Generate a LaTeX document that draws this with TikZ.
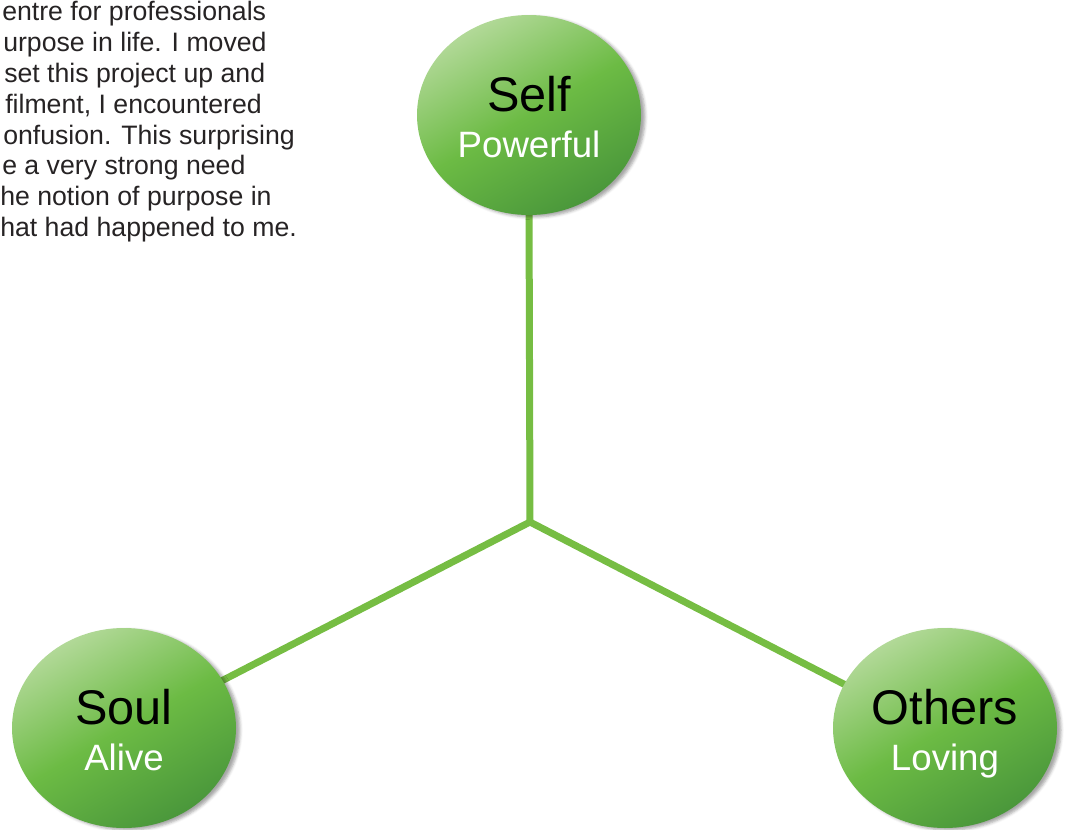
\documentclass[tikz,border=0pt]{standalone}
\usepackage{fontspec}
\setmainfont{Liberation Sans}
\usepackage{xcolor}
\usetikzlibrary{shapes.geometric,shadows.blur}

\definecolor{spokegreen}{HTML}{76BD43}
\definecolor{bubblelight}{HTML}{B2D998}
\definecolor{bubblemid}{HTML}{6CBB44}
\definecolor{bubbledark}{HTML}{4A973B}
\definecolor{bodygray}{HTML}{262324}

\tikzset{
  bubble/.style={ellipse, minimum width=168pt, minimum height=150pt, inner sep=0pt,
    top color=bubblelight, bottom color=bubbledark, middle color=bubblemid, shading angle=30,
    blur shadow={shadow xshift=3pt, shadow yshift=-1.5pt, shadow opacity=35}},
  bubbletitle/.style={anchor=base, inner sep=0pt, text=black, font=\fontsize{36.5}{40}\selectfont},
  bubblesub/.style={anchor=base, inner sep=0pt, text=white, font=\fontsize{27.5}{32}\selectfont},
  spoke/.style={draw=spokegreen, line width=5.25pt},
  bodyline/.style={anchor=base west, inner sep=0pt, text=bodygray, font=\fontsize{20}{23}\selectfont}
}

\begin{document}
\begin{tikzpicture}[x=0.75pt,y=-0.75pt]
\useasboundingbox (0,0) rectangle (1068,829);

% text on the left
\node[bodyline] (line1) at (2,20) {entre for professionals};
\node[bodyline] (line2) at (3,51) {urpose in life. I moved};
\node[bodyline] (line3) at (4,82) {set this project up and};
\node[bodyline] (line4) at (5,113) {filment, I encountered};
\node[bodyline] (line5) at (3,144) {onfusion. This surprising};
\node[bodyline] (line6) at (2,174) {e a very strong need};
\node[bodyline] (line7) at (0,205) {he notion of purpose in};
\node[bodyline] (line8) at (0,236) {hat had happened to me.};

% spokes
\coordinate (hub) at (530,522);
\draw[spoke] (529,200) -- (hub);
\draw[spoke] (hub) -- (200,692);
\draw[spoke] (hub) -- (865,695);

% bubbles
\node[bubble] (self) at (529,115) {};
\node[bubble] (soul) at (124,728) {};
\node[bubble] (others) at (945,728) {};

\node[bubbletitle] (selftitle) at ([yshift=3pt]self.center) {Self};
\node[bubblesub] (selfsub) at ([yshift=-32pt]self.center) {Powerful};
\node[bubbletitle] (soultitle) at ([yshift=3pt]soul.center) {Soul};
\node[bubblesub] (soulsub) at ([yshift=-32pt]soul.center) {Alive};
\node[bubbletitle] (otherstitle) at ([yshift=3pt]others.center) {Others};
\node[bubblesub] (otherssub) at ([yshift=-32pt]others.center) {Loving};

\end{tikzpicture}
\end{document}
